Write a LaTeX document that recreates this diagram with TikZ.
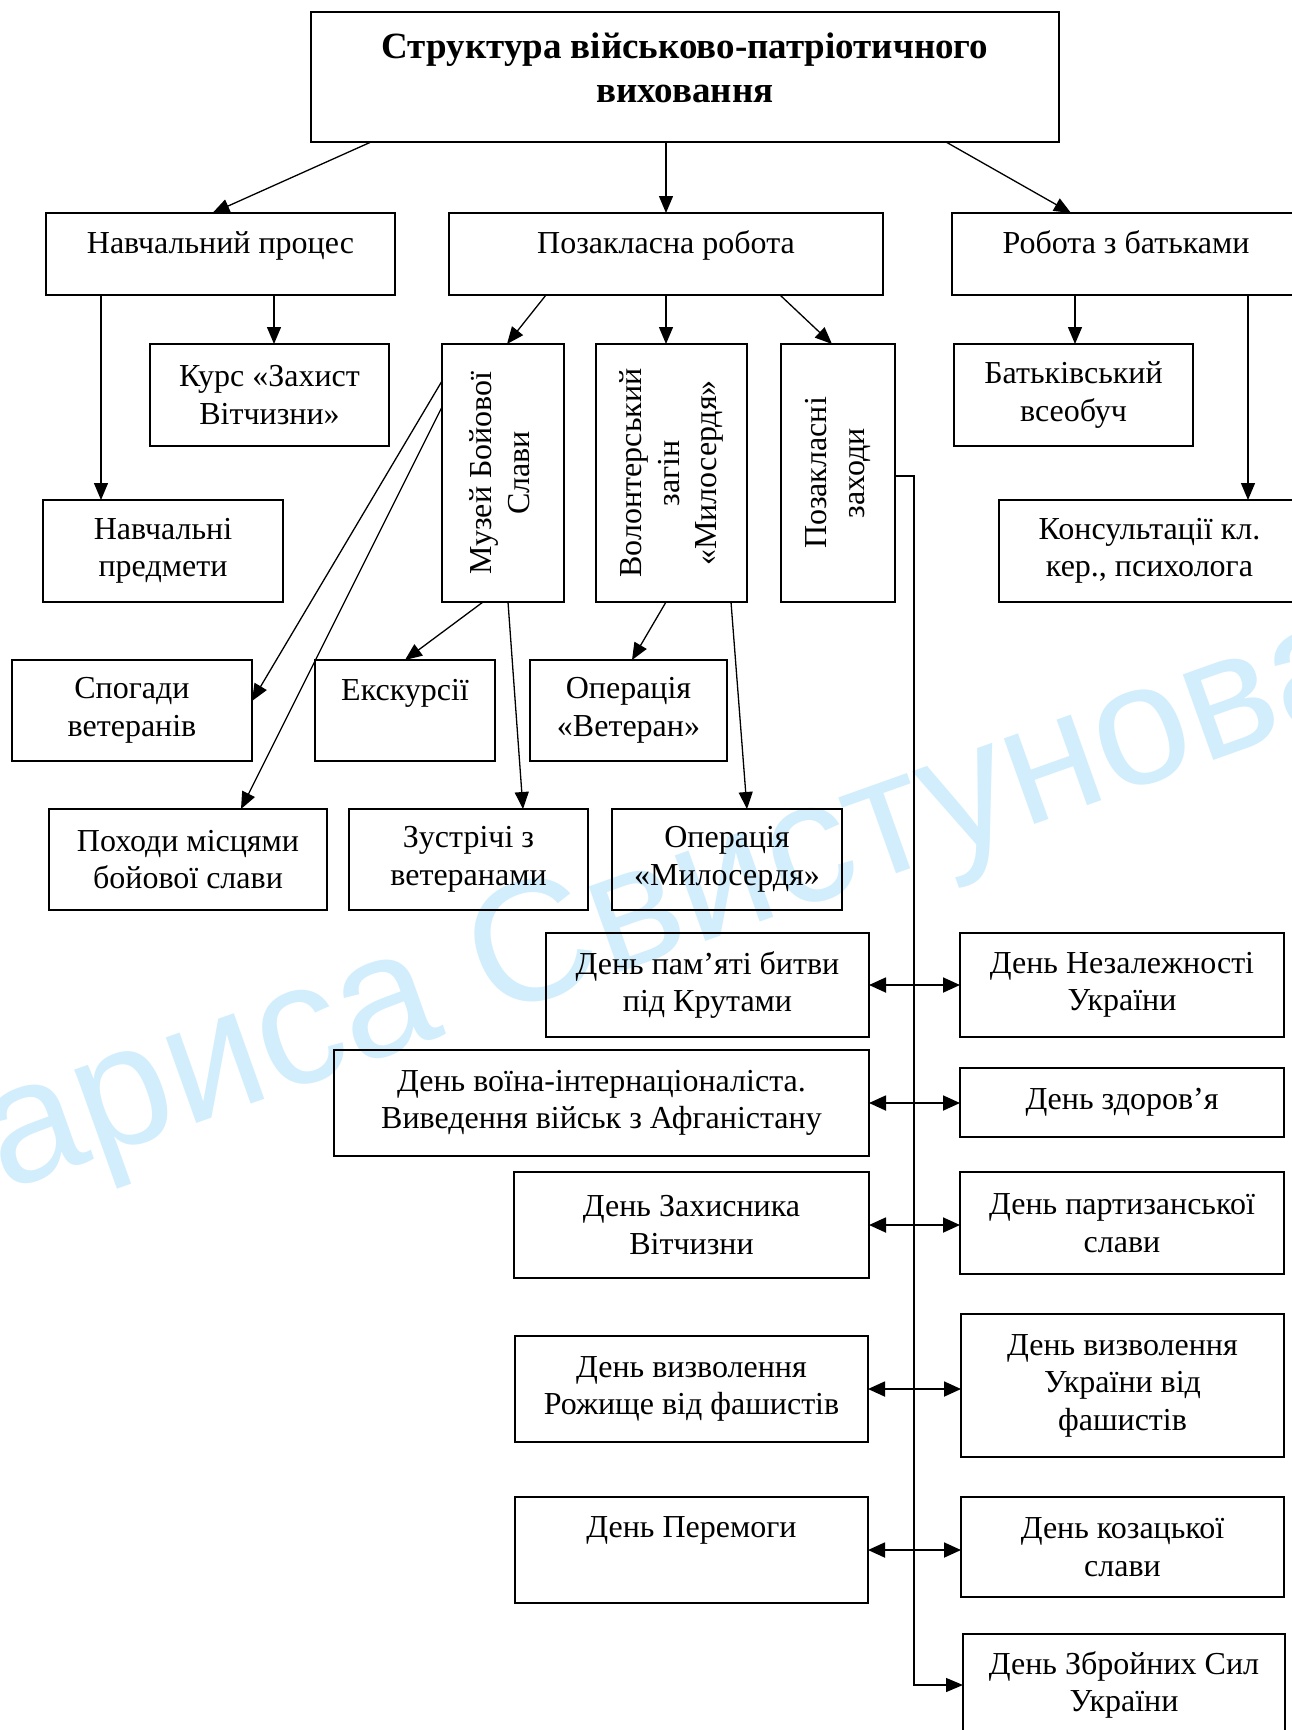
\documentclass[tikz,border=0pt]{standalone}
\usepackage{fontspec}
\usepackage{graphicx}
\setmainfont{Liberation Serif}
\newfontfamily\wmfont{Liberation Sans}
\usetikzlibrary{arrows.meta}
\definecolor{wmblue}{RGB}{210,238,252}
\newcommand{\rottext}[1]{\rotatebox{90}{\begin{tabular}{@{}c@{}}#1\end{tabular}}}

\begin{document}
\begin{tikzpicture}[x=1pt, y=-1pt,
		node_style/.style={draw=black,line width=2pt,inner sep=0pt,outer sep=0pt,align=center,font=\fontsize{32}{37.5}\selectfont},
		sz/.style 2 args={minimum width=#1pt,minimum height=#2pt},
		toptext/.style={text height=40pt,text depth=#1pt},
		edge_style/.style={draw=black,line width=1.3pt,-{Triangle[length=17pt,width=14pt]}},
		both_style/.style={draw=black,line width=1.8pt,{Triangle[length=17pt,width=15pt]}-{Triangle[length=17pt,width=15pt]}},
		wm_style/.style={anchor=base,rotate=19.6,inner sep=0pt,text=wmblue,font=\wmfont\fontsize{172}{172}\selectfont}]
		
		\useasboundingbox (0,0) rectangle (1292,1730);
		\node[wm_style] (wm) at (638,966) {Лариса Свистунова};
		
		\node[node_style,sz={748}{130},text height=90pt,text depth=40pt,font=\fontsize{37}{44}\selectfont\bfseries] (title) at (685,77) {Структура військово-патріотичного\\виховання};
		
		\node[node_style,sz={349}{82},toptext=42] (proc) at (220.5,254) {Навчальний процес};
		\node[node_style,sz={434}{82},toptext=42] (poza) at (666,254) {Позакласна робота};
		\node[node_style,sz={348}{82},toptext=42] (batk) at (1126,254) {Робота з батьками};
		
		\node[node_style,sz={239}{102}] (kurs) at (269.5,395) {Курс «Захист\\Вітчизни»};
		\node[node_style,sz={240}{102}] (predm) at (163,551) {Навчальні\\предмети};
		\node[node_style,sz={122}{258}] (muzej) at (503,473) {\rottext{Музей Бойової\\Слави}};
		\node[node_style,sz={151}{258}] (volont) at (671.5,473) {\rottext{Волонтерський\\загін\\«Милосердя»}};
		\node[node_style,sz={114}{258}] (zakh) at (838,473) {\rottext{Позакласні\\заходи}};
		\node[node_style,sz={239}{102}] (vseob) at (1073.5,395) {Батьківський\\всеобуч};
		\node[node_style,sz={301}{102}] (kons) at (1149.5,551) {Консультації кл.\\кер., психолога};
		
		\node[node_style,sz={240}{101}] (spog) at (132,710.5) {Спогади\\ветеранів};
		\node[node_style,sz={180}{101},toptext=61] (eksk) at (405,710.5) {Екскурсії};
		\node[node_style,sz={197}{101}] (veter) at (628.5,710.5) {Операція\\«Ветеран»};
		\node[node_style,sz={278}{101}] (pohody) at (188,859.5) {Походи місцями\\бойової слави};
		\node[node_style,sz={239}{101}] (zustr) at (468.5,859.5) {Зустрічі з\\ветеранами};
		\node[node_style,sz={230}{101}] (myl) at (727,859.5) {Операція\\«Милосердя»};
		
		\node[node_style,sz={323}{104}] (d1) at (707.5,985) {День пам’яті битви\\під Крутами};
		\node[node_style,sz={535}{106}] (d2) at (601.5,1103) {День воїна-інтернаціоналіста.\\Виведення військ з Афганістану};
		\node[node_style,sz={355}{106}] (d3) at (691.5,1225) {День Захисника\\Вітчизни};
		\node[node_style,sz={353}{106}] (d4) at (691.5,1389) {День визволення\\Рожище від фашистів};
		\node[node_style,sz={353}{106},toptext=66] (d5) at (691.5,1550) {День Перемоги};
		
		\node[node_style,sz={324}{104}] (n1) at (1122,985) {День Незалежності\\України};
		\node[node_style,sz={324}{69}] (n2) at (1122,1102.5) {День здоров’я};
		\node[node_style,sz={324}{102}] (n3) at (1122,1223) {День партизанської\\слави};
		\node[node_style,sz={323}{143}] (n4) at (1122.5,1385.5) {День визволення\\України від\\фашистів};
		\node[node_style,sz={323}{100}] (n5) at (1122.5,1547) {День козацької\\слави};
		\node[node_style,sz={322}{102}] (n6) at (1124,1685) {День Збройних Сил\\України};
		
		\coordinate (bus) at (914,476);
		
		\draw[edge_style] ([xshift=-314pt]title.south) -- ([xshift=-8pt]proc.north);
		\draw[edge_style] (title.south -| poza.north) -- (poza.north);
		\draw[edge_style] ([xshift=261pt]title.south) -- ([xshift=-55pt]batk.north);
		
		\draw[edge_style] ([xshift=53.5pt]proc.south) -- ([xshift=4.5pt]kurs.north);
		\draw[edge_style] ([xshift=-119.5pt]proc.south) -- ([xshift=-62pt]predm.north);
		\draw[edge_style] ([xshift=-120pt]poza.south) -- ([xshift=4pt]muzej.north);
		\draw[edge_style] (poza.south) -- ([xshift=-5.5pt]volont.north);
		\draw[edge_style] ([xshift=114pt]poza.south) -- ([xshift=-6pt]zakh.north);
		\draw[edge_style] ([xshift=-51pt]batk.south) -- ([xshift=1.5pt]vseob.north);
		\draw[edge_style] ([xshift=122pt]batk.south) -- ([xshift=98.5pt]kons.north);
		
		\draw[edge_style] ([yshift=92pt]muzej.west) -- ([yshift=9.5pt]spog.east);
		\draw[edge_style] ([yshift=66pt]muzej.west) -- ([xshift=53pt]pohody.north);
		\draw[edge_style] ([xshift=-20pt]muzej.south) -- (eksk.north);
		\draw[edge_style] ([xshift=5pt]muzej.south) -- ([xshift=54.5pt]zustr.north);
		\draw[edge_style] ([xshift=-5.5pt]volont.south) -- ([xshift=3.5pt]veter.north);
		\draw[edge_style] ([xshift=59.5pt]volont.south) -- ([xshift=20pt]myl.north);
		
		\draw[edge_style] (zakh.east |- bus) -- (bus) |- (n6.west);
		\draw[both_style] (d1.east) -- (d1.east -| n1.west);
		\draw[both_style] (d2.east) -- (d2.east -| n2.west);
		\draw[both_style] (d3.east) -- (d3.east -| n3.west);
		\draw[both_style] (d4.east) -- (d4.east -| n4.west);
		\draw[both_style] (d5.east) -- (d5.east -| n5.west);
		
\end{tikzpicture}
\end{document}
